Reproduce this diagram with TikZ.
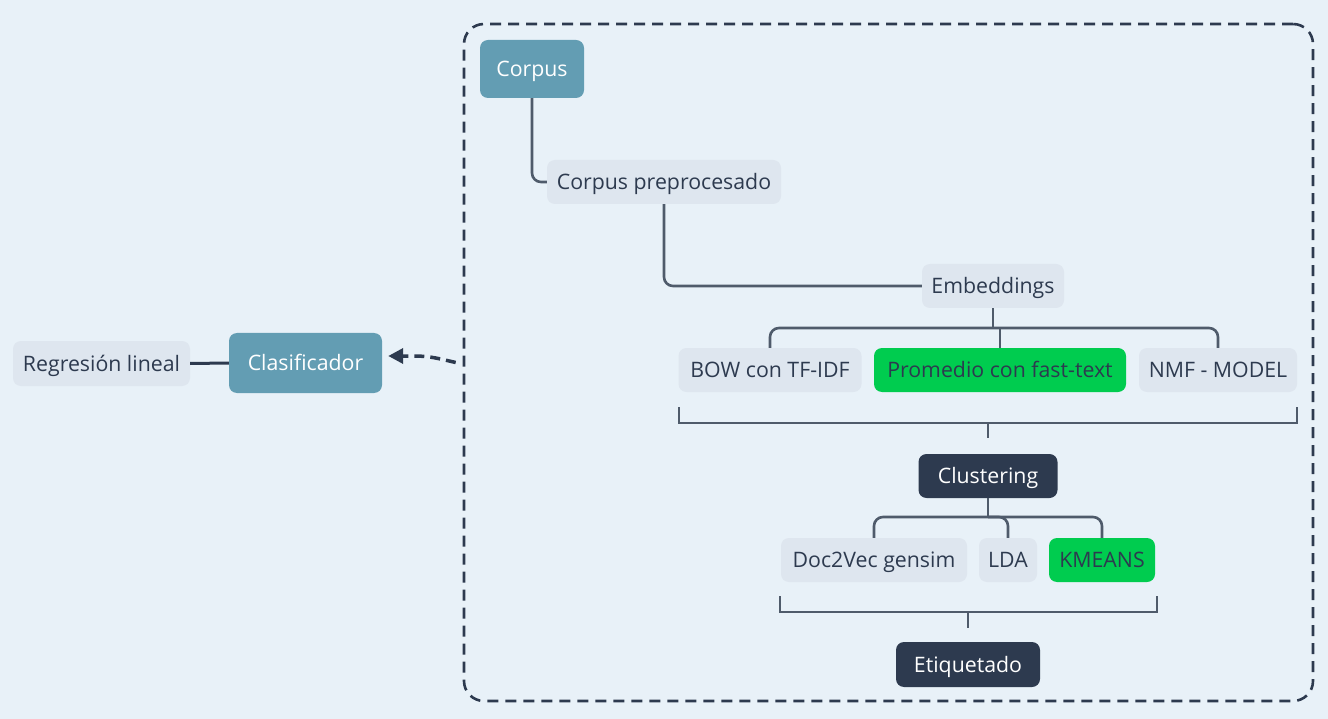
\documentclass[tikz,border=0pt]{standalone}
\usepackage{fontspec}
\setmainfont{Open Sans}
\usetikzlibrary{calc,arrows.meta}
\definecolor{bgc}{HTML}{E8F1F8}
\definecolor{tealc}{HTML}{639DB3}
\definecolor{lightc}{HTML}{DEE6EF}
\definecolor{darkc}{HTML}{2D3A4F}
\definecolor{greenc}{HTML}{00CC4F}
\definecolor{connc}{HTML}{4F5B6B}
\begin{document}
\begin{tikzpicture}[x=1pt,y=-1pt,
  box/.style={rounded corners=8pt, inner sep=0pt, font=\fontsize{21.3}{25}\selectfont, text=darkc, fill=lightc, minimum height=44pt, text height=15pt, text depth=0pt},
  tealbox/.style={box, fill=tealc, text=white},
  darkbox/.style={box, fill=darkc, text=white},
  greenbox/.style={box, fill=greenc},
  conn/.style={draw=connc, line width=2.6pt},
  frameline/.style={draw=darkc, line width=2.6pt, dash pattern=on 11pt off 7pt, rounded corners=20pt, inner sep=0pt},
  darkline/.style={draw=darkc, line width=3pt},
  dasharrow/.style={draw=darkc, line width=3.5pt, dash pattern=on 10pt off 6pt, -{Triangle[length=15pt,width=15pt]}}
]
\useasboundingbox[fill=bgc] (0,0) rectangle (1328,719);

\node[frameline, minimum width=849pt, minimum height=677pt] (frame) at (888.5,362.5) {};

\node[tealbox, minimum width=104pt, minimum height=58pt] (corpus) at (532,69) {Corpus};
\node[box, minimum width=234pt] (prep) at (664,182) {Corpus preprocesado};
\node[box, minimum width=142pt] (emb) at (993,286) {Embeddings};
\node[box, minimum width=183pt] (bow) at (770,370) {BOW con TF-IDF};
\node[greenbox, minimum width=252pt] (prom) at (1000,370) {Promedio con fast-text};
\node[box, minimum width=158pt] (nmf) at (1218,370) {NMF - MODEL};
\node[darkbox, minimum width=139pt] (clus) at (988,476) {Clustering};
\node[box, minimum width=186pt] (doc) at (874,560) {Doc2Vec gensim};
\node[box, minimum width=58pt] (lda) at (1008,560) {LDA};
\node[greenbox, minimum width=106pt] (km) at (1102,560) {KMEANS};
\node[darkbox, minimum width=144pt, minimum height=45pt] (etiq) at (968,664.5) {Etiquetado};
\node[box, minimum width=177pt, minimum height=45pt] (reg) at (101.5,363.5) {Regresión lineal};
\node[tealbox, minimum width=153pt, minimum height=60pt] (clas) at (305.5,363) {Clasificador};

% connectors
\draw[conn, rounded corners=9pt] (corpus.south) |- (prep.west);
\draw[conn, rounded corners=9pt] (prep.south) |- (emb.west);

\coordinate (ej) at (993,328);
\draw[conn] (emb.south) -- (emb.south |- ej);
\draw[conn, rounded corners=9pt] (bow.north) |- (nmf.north |- ej) -- (nmf.north);
\draw[conn] (prom.north) -- (prom.north |- ej);

\coordinate (b1l) at (679,407);
\coordinate (b1r) at (1297,407);
\coordinate (b1c) at (988,423);
\draw[conn] (b1l) |- (b1r |- b1c) -- (b1r);
\draw[conn] (b1c) -- ($(clus.north)+(0,-16)$);

\coordinate (cj) at (988,517);
\draw[conn] (clus.south) -- (cj);
\draw[conn, rounded corners=9pt] (doc.north) |- (km.north |- cj) -- (km.north);
\draw[conn, rounded corners=9pt] (cj) -| (lda.north);

\coordinate (b2l) at (780,596);
\coordinate (b2r) at (1157,596);
\coordinate (b2c) at (968,612);
\draw[conn] (b2l) |- (b2r |- b2c) -- (b2r);
\draw[conn] (b2c) -- ($(etiq.north)+(0,-14)$);

\draw[darkline] (reg.east) -- (clas.west);
\coordinate (fa) at ($(frame.west)+(-7,0)$);
\draw[dasharrow] (fa) .. controls (428,356) .. ($(clas.east)+(6,-7)$);
\end{tikzpicture}
\end{document}
